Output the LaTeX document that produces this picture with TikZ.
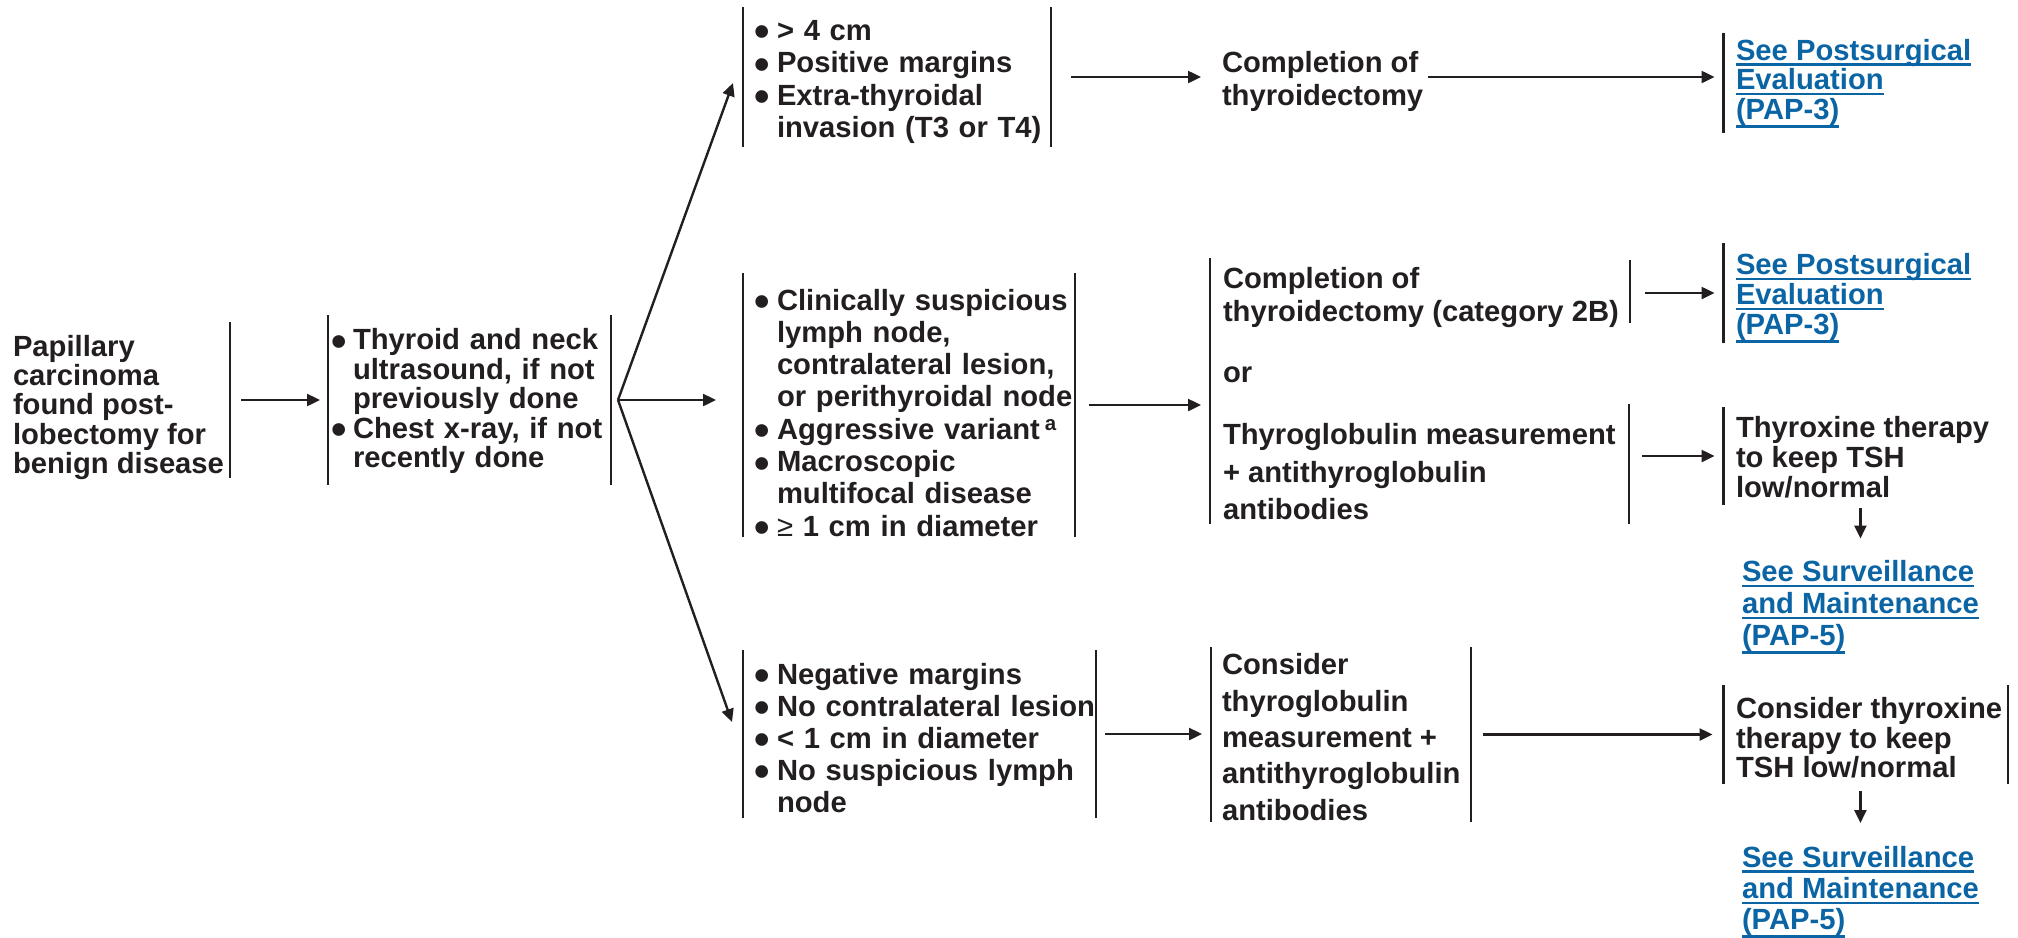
\documentclass[tikz,border=0pt]{standalone}
\usepackage{fontspec}
\setmainfont{Liberation Sans}
\usetikzlibrary{arrows.meta,fit}

\definecolor{ink}{HTML}{231F20}
\definecolor{linkblue}{HTML}{0B64A4}

\setlength\parindent{0pt}
\setlength\parskip{0pt}

% large round bullet
\newcommand\bul{\hspace{-2pt}\smash{\raisebox{-6.5pt}{\fontsize{44}{31}\selectfont •}}}
% bullet item with hanging indent; the zero-width rule fixes the first-line height
\newcommand\itm[2][21pt]{\hangindent=#1\hangafter=1\noindent\rule{0pt}{22pt}\makebox[#1][l]{\bul}#2\par}

% underlined link lines
\newsavebox\lkbox
\newcommand\lk[1]{\sbox\lkbox{#1}\rlap{\rule[-5.7pt]{\wd\lkbox}{2.5pt}}\usebox\lkbox}
\newcommand\lkp[1]{\sbox\lkbox{#1}\rlap{\rule[-8.2pt]{\wd\lkbox}{2.5pt}}\usebox\lkbox}

\tikzset{
  frame/.style={inner sep=0pt, outer sep=0pt, draw=none},
  bar/.style={draw=ink, line width=2.6pt},
  arr/.style={draw=ink, line width=2.4pt, -{Triangle[length=13pt,width=12pt]}},
  lines/.style={font=\fontsize{29.2}{#1}\selectfont\bfseries},
  plain/.style={anchor=north west, inner sep=0pt, outer sep=0pt, text=ink, align=left,
    execute at begin node={\rule{0pt}{22pt}}},
  bullets/.style={anchor=north west, inner sep=0pt, outer sep=0pt, text=ink, align=left, text width=#1},
  link/.style={plain, text=linkblue},
}

\begin{document}
\lineskiplimit=-1000pt
\lineskip=0pt
\begin{tikzpicture}[x=1pt,y=-1pt]
\useasboundingbox[fill=white] (0,0) rectangle (2018,937);

% ---- frames (extent of each bracketed box) ----
\node[frame, fit={(13,322) (230,478)}]     (A)   {};
\node[frame, fit={(328,315) (611,485)}]    (B)   {};
\node[frame, fit={(743,7) (1051,147)}]     (C1)  {};
\node[frame, fit={(1210,7) (1424,147)}]    (D1)  {};
\node[frame, fit={(1723.5,33) (1996,133)}] (E1)  {};
\node[frame, fit={(743,273) (1075,537)}]   (C2)  {};
\node[frame, fit={(1210,258) (1630,524)}]  (D2)  {};
\node[frame, fit={(1210,260) (1630,323)}]  (D2a) {};
\node[frame, fit={(1210,404) (1629,524)}]  (D2b) {};
\node[frame, fit={(1723.5,243) (1996,343)}] (E2) {};
\node[frame, fit={(1723.5,407) (1996,505)}] (F2) {};
\node[frame, fit={(743,650) (1096,818)}]   (C3)  {};
\node[frame, fit={(1211,647) (1471,822)}]  (D3)  {};
\node[frame, fit={(1723.5,685) (2008,784)}] (F3) {};

% ---- vertical bars ----
\draw[bar] (A.north east) -- (A.south east);
\draw[bar] (B.north west) -- (B.south west);
\draw[bar] (B.north east) -- (B.south east);
\draw[bar] (C1.north west) -- (C1.south west);
\draw[bar] (C1.north east) -- (C1.south east);
\draw[bar] (E1.north west) -- (E1.south west);
\draw[bar] (C2.north west) -- (C2.south west);
\draw[bar] (C2.north east) -- (C2.south east);
\draw[bar] (D2.north west) -- (D2.south west);
\draw[bar] (D2a.north east) -- (D2a.south east);
\draw[bar] (D2b.north east) -- (D2b.south east);
\draw[bar] (E2.north west) -- (E2.south west);
\draw[bar] (F2.north west) -- (F2.south west);
\draw[bar] (C3.north west) -- (C3.south west);
\draw[bar] (C3.north east) -- (C3.south east);
\draw[bar] (D3.north west) -- (D3.south west);
\draw[bar] (D3.north east) -- (D3.south east);
\draw[bar] (F3.north west) -- (F3.south west);
\draw[bar] (F3.north east) -- (F3.south east);

% ---- texts (anchored 22pt above the first baseline) ----
\node[plain, lines=29.3] (A-t) at (13,335)
  {Papillary\\carcinoma\\found post-\\lobectomy for\\benign disease};
\node[bullets=300pt, lines=29.6] (B-t) at (333,327.5)
  {\itm[20pt]{Thyroid and neck\break ultrasound, if not\break previously done}\itm[20pt]{Chest x-ray, if not\break recently done}};
\node[bullets=330pt, lines=32.5] (C1-t) at (756,18)
  {\itm{> 4 cm}\itm{Positive margins}\itm{Extra-thyroidal\break invasion (T3 or T4)}};
\node[plain, lines=33] (D1-t) at (1222,51) {Completion of\\thyroidectomy};
\node[link, lines=29.6] (E1-t) at (1736,39)
  {\lk{See Postsurgical}\\\lk{Evaluation}\\\lkp{(PAP-3)}};

\node[bullets=340pt, lines=32.3] (C2-t) at (756,288)
  {\itm{Clinically suspicious\break lymph node,\break contralateral lesion,\break or perithyroidal node}%
   \itm{Aggressive variant\,\textsuperscript{a}}%
   \itm{Macroscopic\break multifocal disease}%
   \itm{\textmd{≥} 1 cm in diameter}};
\node[plain, lines=33] (D2a-t) at (1223,267) {Completion of\\thyroidectomy (category 2B)};
\node[plain, lines=31] (or-t) at (1223,360) {or};
\node[plain, lines=37.5] (D2b-t) at (1223,423.5) {Thyroglobulin measurement\\+ antithyroglobulin\\antibodies};
\node[link, lines=30] (E2-t) at (1736,253.5)
  {\lk{See Postsurgical}\\\lk{Evaluation}\\\lkp{(PAP-3)}};
\node[plain, lines=29.8] (F2-t) at (1736,416.5) {Thyroxine therapy\\to keep TSH\\low/normal};
\node[link, lines=32] (G2) at (1742,560.5)
  {\lk{See Surveillance}\\\lk{and Maintenance}\\\lkp{(PAP-5)}};

\node[bullets=340pt, lines=32] (C3-t) at (756,662)
  {\itm{Negative margins}\itm{No contralateral lesion}\itm{< 1 cm in diameter}\itm{No suspicious lymph\break node}};
\node[plain, lines=36.4] (D3-t) at (1222,653.5)
  {Consider\\thyroglobulin\\measurement +\\antithyroglobulin\\antibodies};
\node[plain, lines=29.5] (F3-t) at (1736,697.5) {Consider thyroxine\\therapy to keep\\TSH low/normal};
\node[link, lines=31.3] (G3) at (1742,846)
  {\lk{See Surveillance}\\\lk{and Maintenance}\\\lkp{(PAP-5)}};

% ---- connectors ----
\draw[arr] ([xshift=11pt]A.east) -- ([xshift=-8pt]B.west);

\coordinate (fan) at ([xshift=7pt]B.east);
\draw[arr] (fan) -- ([xshift=-10pt,yshift=-6pt]C1.west);
\path (fan -| C2.west) coordinate (fc2);
\draw[arr] (fan) -- ([xshift=-27pt]fc2);
\draw[arr] (fan) -- ([xshift=-11pt,yshift=12pt]C3.west);

\path (C1.east -| D1.west) coordinate (c1d1);
\draw[arr] ([xshift=20pt]C1.east) -- ([xshift=-9pt]c1d1);
\path (D1.east -| E1.west) coordinate (d1e1);
\draw[arr] ([xshift=4pt]D1.east) -- ([xshift=-9pt]d1e1);

\path (C2.east -| D2.west) coordinate (c2d2);
\draw[arr] ([xshift=14pt]C2.east) -- ([xshift=-9pt]c2d2);
\path (E2.west -| D2a.east) coordinate (d2e2);
\draw[arr] ([xshift=15pt]d2e2) -- ([xshift=-9pt]E2.west);
\path (F2.west -| D2b.east) coordinate (d2f2);
\draw[arr] ([xshift=13pt]d2f2) -- ([xshift=-9pt]F2.west);
\path ([yshift=-3pt]F2.south) coordinate (f2s);
\draw[arr] (f2s -| G2.north) -- ([yshift=22pt]G2.north);

\path (C3.east -| D3.west) coordinate (c3d3);
\draw[arr] ([xshift=9pt]C3.east) -- ([xshift=-9pt]c3d3);
\path (D3.east -| F3.west) coordinate (d3f3);
\draw[arr] ([xshift=12pt]D3.east) -- ([xshift=-11pt]d3f3);
\path ([yshift=-7pt]F3.south) coordinate (f3s);
\draw[arr] (f3s -| G3.north) -- ([yshift=23pt]G3.north);
\end{tikzpicture}
\end{document}
